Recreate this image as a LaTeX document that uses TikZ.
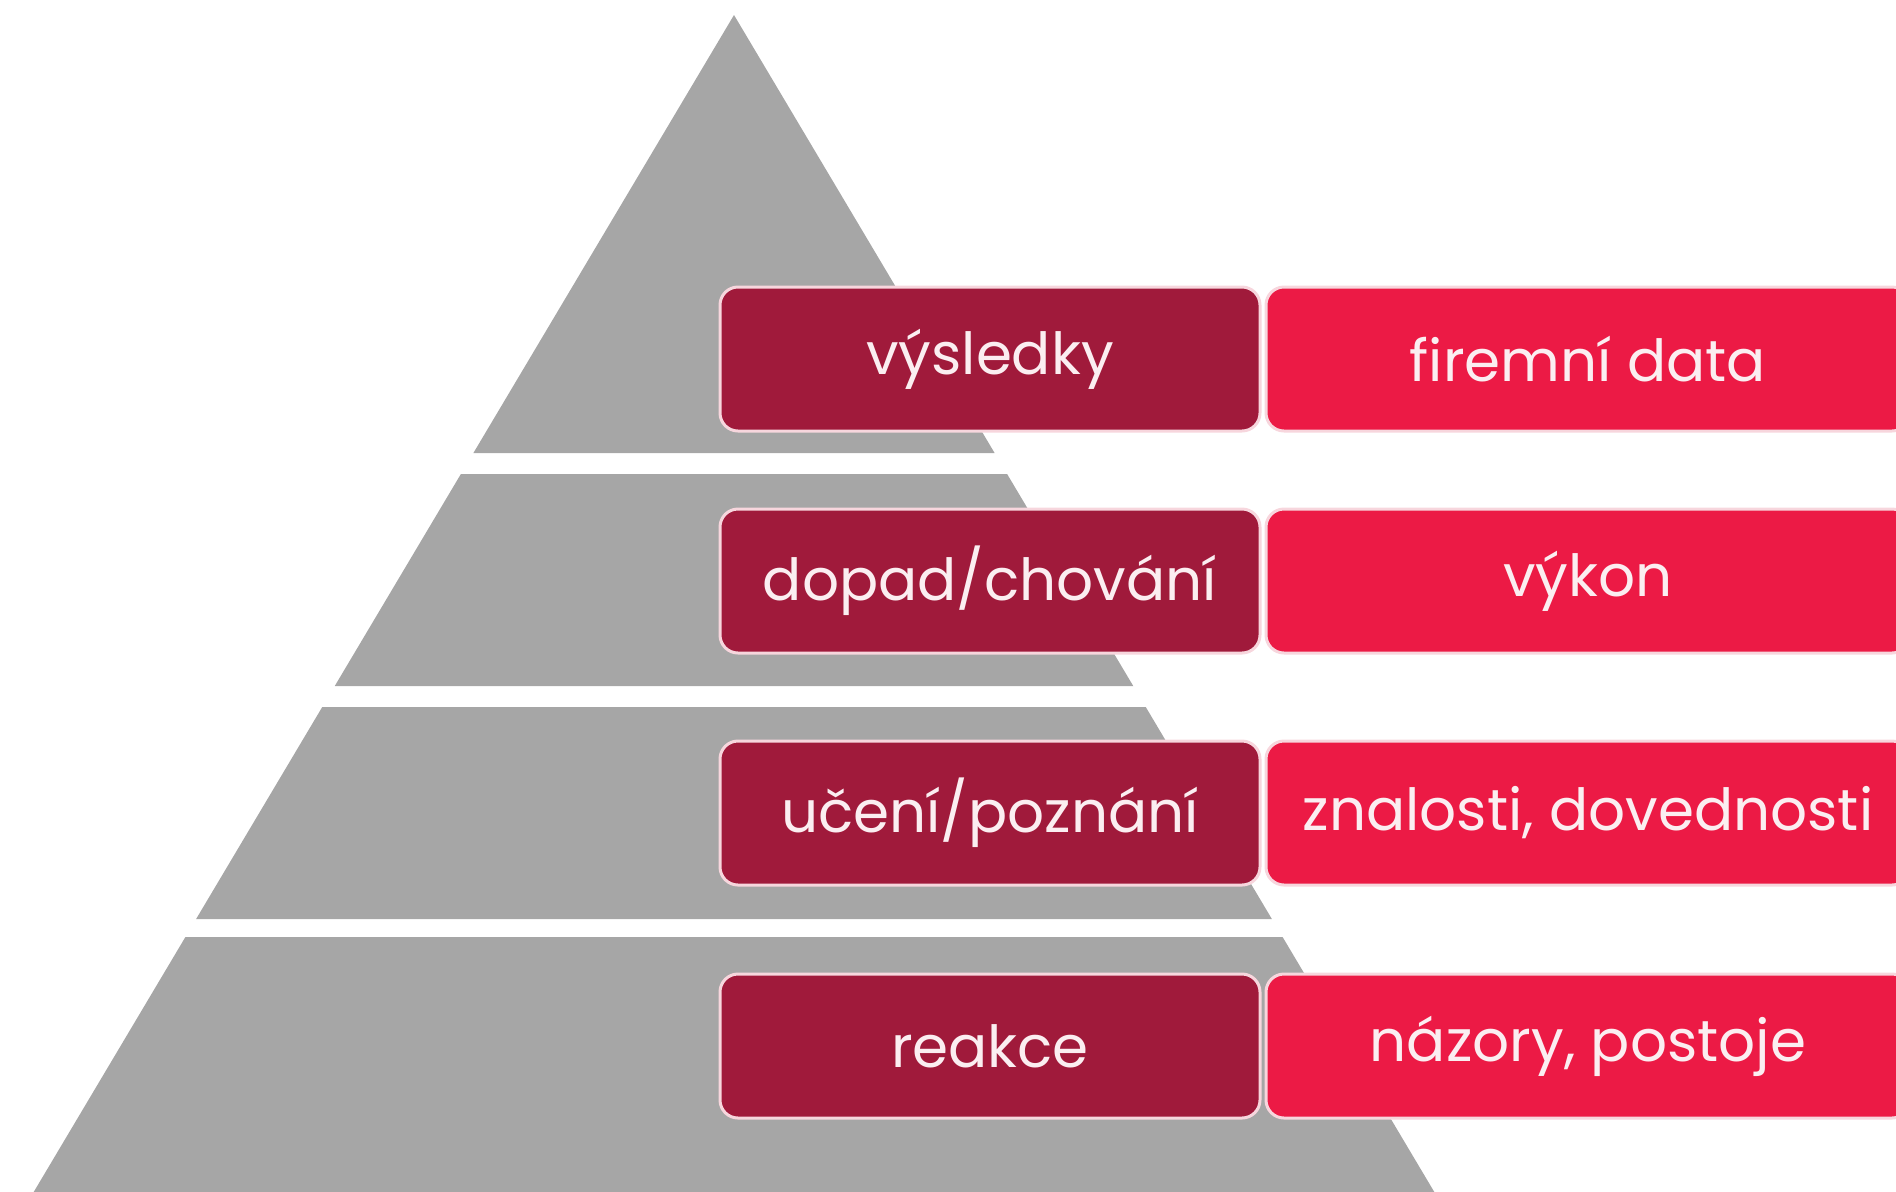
\documentclass[tikz,border=0pt]{standalone}
\usepackage{fontspec}
\setmainfont{Poppins}
\usepackage{xcolor}
\usepackage{tikz}
\usetikzlibrary{positioning}

\definecolor{pyrgray}{HTML}{A6A6A6}
\definecolor{levdark}{HTML}{A01A3B}
\definecolor{levbright}{HTML}{EC1A45}
\definecolor{levedge}{HTML}{F7D6DD}
\definecolor{levtext}{HTML}{FBEEF1}

\begin{document}
\begin{tikzpicture}[
  x=0.5pt, y=-0.5pt,
  node distance=39pt and 3pt,
  band/.style={fill=pyrgray},
  level/.style={rectangle, draw=levedge, line width=1.5pt, rounded corners=9pt,
                minimum width=270pt, minimum height=72pt, outer sep=0pt,
                fill=levdark, text=levtext, font=\fontsize{29}{35}\selectfont},
  measure/.style={level, minimum width=322pt, fill=levbright},
]
  \useasboundingbox (0,0) rectangle (1896,1191);
  \clip (0,0) rectangle (1896,1191);

  % -- Pyramid bands --
  \foreach \t/\b in {15/453, 474/686, 707/919, 937/1200}
    \fill[band] ({734-0.595*(\t-15)},\t) -- ({734+0.595*(\t-15)},\t)
      -- ({734+0.595*(\b-15)},\b) -- ({734-0.595*(\b-15)},\b) -- cycle;

  % -- Levels --
  \node[level] (results) at (990,359) {výsledky};
  \node[level, below=39pt of results] (behaviour) {dopad/chování};
  \node[level, below=44pt of behaviour] (learning) {učení/poznání};
  \node[level, below=44.5pt of learning] (reaction) {reakce};

  % -- What is measured --
  \node[measure, right=of results] (data) {firemní data};
  \node[measure, right=of behaviour] (perf) {výkon};
  \node[measure, right=of learning] (skills) {znalosti, dovednosti};
  \node[measure, right=of reaction] (views) {názory, postoje};

\end{tikzpicture}
\end{document}
